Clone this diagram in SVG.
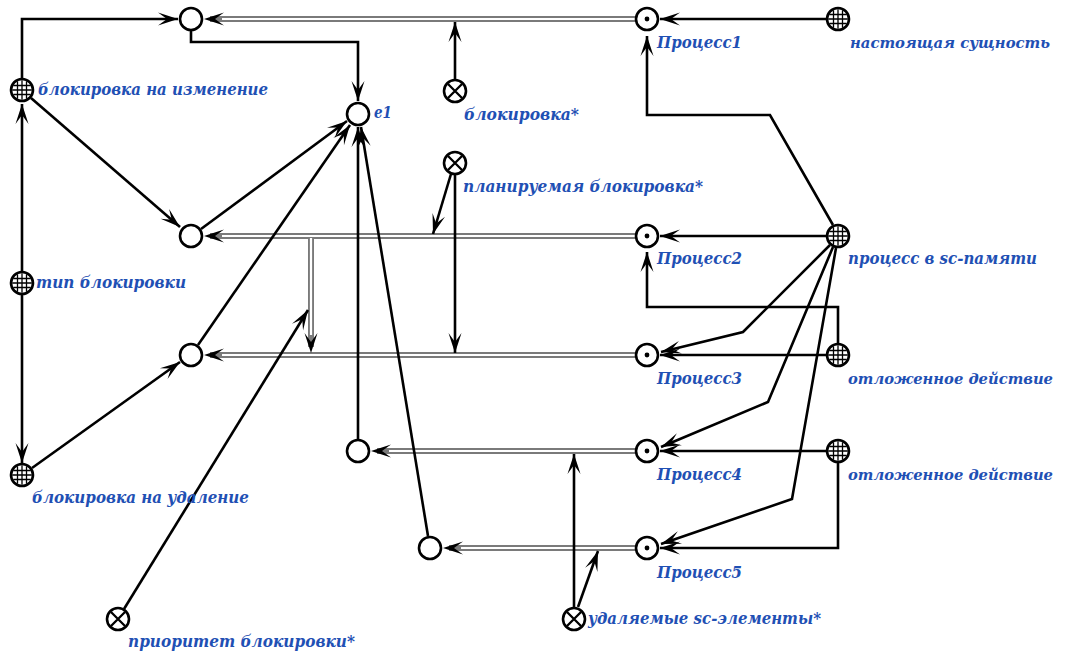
<svg xmlns="http://www.w3.org/2000/svg" xmlns:xlink="http://www.w3.org/1999/xlink" width="1068" height="657" viewBox="0 0 1068 657">
<style>
.n{fill:#fff;stroke:#000;stroke-width:2.6}
.g{stroke:#000;stroke-width:1.3}
.x{stroke:#000;stroke-width:2.3}
.e{fill:none;stroke:#000;stroke-width:2.6;marker-end:url(#ah)}
.do{fill:none;stroke:#7a7a7a;stroke-width:6;marker-end:url(#ahd)}
.di{fill:none;stroke:#fff;stroke-width:2.2}
.lbl{fill:#1f50b4;font-family:"DejaVu Serif","Liberation Serif",serif;font-weight:bold;font-style:italic;font-size:17px}
.sm{font-size:15px}
</style>
<defs>
<marker id="ah" markerUnits="userSpaceOnUse" orient="auto" markerWidth="30" markerHeight="30" viewBox="-25 -15 30 30" refX="0" refY="0" overflow="visible">
<path d="M0,0 L-20,-6.5 L-11,0 L-20,6.5 Z" fill="#000"/>
</marker>
<marker id="ahd" markerUnits="userSpaceOnUse" orient="auto" markerWidth="30" markerHeight="30" viewBox="-25 -15 30 30" refX="0" refY="0" overflow="visible">
<path d="M6,0 L-14,-6.5 L-5,0 L-14,6.5 Z" fill="#000"/>
</marker>
<g id="c"><circle class="n" r="11"/></g>
<g id="dt"><circle class="n" r="11"/><circle r="2.4" fill="#000"/></g>
<g id="gr"><circle class="n" r="11"/><path class="g" d="M-4.5,-8.8V8.8M0,-9.8V9.8M4.5,-8.8V8.8M-8.8,-4.5H8.8M-9.8,0H9.8M-8.8,4.5H8.8"/></g>
<g id="xx"><circle class="n" r="11"/><path class="x" d="M-7,-7L7,7M7,-7L-7,7"/></g>
</defs>
<rect width="1068" height="657" fill="#fff"/>
<g id="connectors">
<path class="do" d="M635,19 L210,19"/><path class="di" d="M635,19 L222,19"/>
<path class="do" d="M635,236 L210,236"/><path class="di" d="M635,236 L222,236"/>
<path class="do" d="M635,355 L210,355"/><path class="di" d="M635,355 L222,355"/>
<path class="do" d="M635,451 L377,451"/><path class="di" d="M635,451 L389,451"/>
<path class="do" d="M635,548 L449,548"/><path class="di" d="M635,548 L461,548"/>
<path class="do" d="M311,238 L311,347"/><path class="di" d="M311,238 L311,335"/>
<path class="e" d="M826,19 L660,19"/>
<path class="e" d="M455,79 L455,22"/>
<path class="e" d="M191,31 V42 H358 V101"/>
<path class="e" d="M22,78 V19 H178"/>
<path class="e" d="M31,98 L180,227"/>
<path class="e" d="M201,229 L347,121"/>
<path class="e" d="M198,345 L350,125"/>
<path class="e" d="M358,439 L358,127"/>
<path class="e" d="M428,536 L361,127"/>
<path class="e" d="M22,271 L22,104"/>
<path class="e" d="M22,295 L22,463"/>
<path class="e" d="M32,468 L180,362"/>
<path class="e" d="M124,609 L308,310"/>
<path class="e" d="M451,174 L433,234"/>
<path class="e" d="M455,175 L455,353"/>
<path class="e" d="M833,225 L770,115 H647 V36"/>
<path class="e" d="M826,236 L660,236"/>
<path class="e" d="M830,245 L743,332 L661,352"/>
<path class="e" d="M833,247 L768,402 L661,447"/>
<path class="e" d="M836,248 L792,499 L661,544"/>
<path class="e" d="M838,343 V307 H647 V252"/>
<path class="e" d="M826,355 L660,355"/>
<path class="e" d="M826,451 L660,451"/>
<path class="e" d="M838,463 V548 H660"/>
<path class="e" d="M574,607 L574,454"/>
<path class="e" d="M578,607 L598,551"/>
</g>
<g id="nA"><use xlink:href="#c" x="191" y="19"/></g>
<g id="nB"><use xlink:href="#c" x="191" y="236"/></g>
<g id="nC"><use xlink:href="#c" x="191" y="355"/></g>
<g id="nD"><use xlink:href="#c" x="358" y="451"/></g>
<g id="nE"><use xlink:href="#c" x="430" y="548"/></g>
<g id="e1"><use xlink:href="#c" x="358" y="114"/><text class="lbl" x="374" y="118" textLength="18" lengthAdjust="spacingAndGlyphs">e1</text></g>
<g id="p1"><use xlink:href="#dt" x="647" y="19"/><text class="lbl" x="657" y="48" textLength="85" lengthAdjust="spacingAndGlyphs">Процесс1</text></g>
<g id="p2"><use xlink:href="#dt" x="647" y="236"/><text class="lbl" x="657" y="264" textLength="85" lengthAdjust="spacingAndGlyphs">Процесс2</text></g>
<g id="p3"><use xlink:href="#dt" x="647" y="355"/><text class="lbl" x="657" y="384" textLength="85" lengthAdjust="spacingAndGlyphs">Процесс3</text></g>
<g id="p4"><use xlink:href="#dt" x="647" y="451"/><text class="lbl" x="657" y="480" textLength="85" lengthAdjust="spacingAndGlyphs">Процесс4</text></g>
<g id="p5"><use xlink:href="#dt" x="647" y="548"/><text class="lbl" x="657" y="578" textLength="85" lengthAdjust="spacingAndGlyphs">Процесс5</text></g>
<g id="ns"><use xlink:href="#gr" x="838" y="19"/><text class="lbl sm" x="850" y="48" textLength="200" lengthAdjust="spacingAndGlyphs">настоящая сущность</text></g>
<g id="psc"><use xlink:href="#gr" x="838" y="236"/><text class="lbl" x="848" y="264" textLength="189" lengthAdjust="spacingAndGlyphs">процесс в sc-памяти</text></g>
<g id="od1"><use xlink:href="#gr" x="838" y="355"/><text class="lbl sm" x="848" y="384" textLength="205" lengthAdjust="spacingAndGlyphs">отложенное действие</text></g>
<g id="od2"><use xlink:href="#gr" x="838" y="451"/><text class="lbl sm" x="848" y="480" textLength="205" lengthAdjust="spacingAndGlyphs">отложенное действие</text></g>
<g id="bi"><use xlink:href="#gr" x="22" y="90"/><text class="lbl" x="38" y="95" textLength="230" lengthAdjust="spacingAndGlyphs">блокировка на изменение</text></g>
<g id="tb"><use xlink:href="#gr" x="22" y="283"/><text class="lbl" x="36" y="288" textLength="150" lengthAdjust="spacingAndGlyphs">тип блокировки</text></g>
<g id="bu"><use xlink:href="#gr" x="22" y="475"/><text class="lbl" x="32" y="503" textLength="217" lengthAdjust="spacingAndGlyphs">блокировка на удаление</text></g>
<g id="bl"><use xlink:href="#xx" x="455" y="91"/><text class="lbl" x="464" y="120" textLength="115" lengthAdjust="spacingAndGlyphs">блокировка*</text></g>
<g id="pl"><use xlink:href="#xx" x="455" y="163"/><text class="lbl" x="463" y="192" textLength="240" lengthAdjust="spacingAndGlyphs">планируемая блокировка*</text></g>
<g id="us"><use xlink:href="#xx" x="574" y="619"/><text class="lbl" x="588" y="624" textLength="233" lengthAdjust="spacingAndGlyphs">удаляемые sc-элементы*</text></g>
<g id="pr"><use xlink:href="#xx" x="118" y="619"/><text class="lbl" x="128" y="647" textLength="227" lengthAdjust="spacingAndGlyphs">приоритет блокировки*</text></g>
</svg>
